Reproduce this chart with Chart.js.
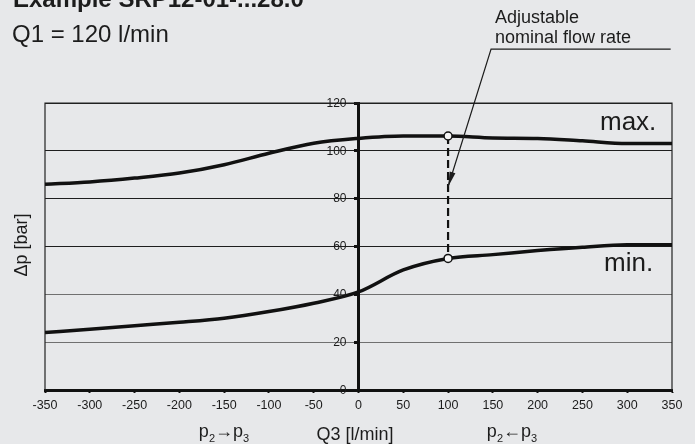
<!DOCTYPE html>
<html>
<head>
<meta charset="utf-8">
<script src="https://cdn.jsdelivr.net/npm/chart.js@4/dist/chart.umd.min.js"></script>
<style>
  html, body { margin: 0; padding: 0; background: #e7e8ea; }
  canvas { display: block; }
</style>
</head>
<body>
<canvas id="c" width="695" height="444"></canvas>
<script>
// ---- data ----
const flowQ3 = [-350, -300, -250, -200, -150, -100, -50, 0, 50, 100, 150, 200, 250, 300, 350];
const maxDp  = [86, 87, 88.6, 90.7, 94.2, 99, 103.2, 105.2, 106.2, 106.2, 105.4, 105.2, 104.2, 103.1, 103.1];
const minDp  = [24, 25.4, 26.9, 28.3, 30, 32.8, 36.3, 41, 50.2, 55, 56.6, 58.3, 59.7, 60.7, 60.7];
const nominalQ = 100;
const xTickStep = 50, yTickStep = 20;

const FONT = '"Liberation Sans", Arial, Helvetica, sans-serif';
const INK = '#1c1c1c';

const toPts = arr => flowQ3.map((q, i) => ({ x: q, y: arr[i] }));
const iNom = flowQ3.indexOf(nominalQ);

const decor = {
  id: 'decor',
  beforeDatasetsDraw(chart) {
    const { ctx, chartArea: a } = chart;
    ctx.save();
    ctx.strokeStyle = '#222';
    ctx.lineWidth = 1.2;
    ctx.beginPath();
    ctx.moveTo(a.left, a.bottom); ctx.lineTo(a.left, a.top);
    ctx.lineTo(a.right, a.top); ctx.lineTo(a.right, a.bottom);
    ctx.stroke();
    ctx.restore();
  },
  afterDraw(chart) {
    const { ctx, scales: { x, y } } = chart;
    ctx.save();
    ctx.fillStyle = INK;
    // y tick labels beside the centred axis
    ctx.font = '12px ' + FONT;
    ctx.textAlign = 'right';
    ctx.textBaseline = 'middle';
    const axisX = x.getPixelForValue(0);
    y.ticks.forEach(t => {
      ctx.fillText(String(t.value), axisX - 12, y.getPixelForValue(t.value) + 0.5);
    });
    ctx.textBaseline = 'alphabetic';
    ctx.textAlign = 'left';
    // titles
    ctx.font = 'bold 24px ' + FONT;
    ctx.fillText('Example SRP12-01-...28.0', 13, 7);
    ctx.font = '24px ' + FONT;
    ctx.fillText('Q1 = 120 l/min', 12, 42);
    // annotation text
    ctx.font = '18px ' + FONT;
    ctx.fillText('Adjustable', 495, 23);
    ctx.fillText('nominal flow rate', 495, 43);
    // leader line + arrow
    const sx = x.getPixelForValue(148), sy = y.getPixelForValue(142.5);
    const ex = x.getPixelForValue(348.5);
    const tx = x.getPixelForValue(nominalQ), ty = y.getPixelForValue(85);
    ctx.strokeStyle = INK;
    ctx.lineWidth = 1.2;
    ctx.beginPath();
    ctx.moveTo(ex, sy); ctx.lineTo(sx, sy); ctx.lineTo(tx, ty);
    ctx.stroke();
    const ang = Math.atan2(ty - sy, tx - sx);
    const L = 15, W = 3;
    const bx = tx - L * Math.cos(ang), by = ty - L * Math.sin(ang);
    ctx.beginPath();
    ctx.moveTo(tx, ty);
    ctx.lineTo(bx + W * Math.sin(ang), by - W * Math.cos(ang));
    ctx.lineTo(bx - W * Math.sin(ang), by + W * Math.cos(ang));
    ctx.closePath();
    ctx.fill();
    // curve labels
    ctx.font = '26px ' + FONT;
    ctx.fillText('max.', 600, 130);
    ctx.fillText('min.', 604, 271);
    // axis titles
    ctx.font = '18px ' + FONT;
    ctx.textAlign = 'center';
    ctx.fillText('Q3 [l/min]', 355, 440);
    const drawP = (cx, arrow) => {
      ctx.textAlign = 'left';
      const big = '18px ' + FONT, small = '11px ' + FONT;
      ctx.font = big; const wp = ctx.measureText('p').width; const wa = ctx.measureText(arrow).width;
      ctx.font = small; const w2 = ctx.measureText('2').width; const w3 = ctx.measureText('3').width;
      let px = cx - (wp * 2 + w2 + w3 + wa) / 2;
      ctx.font = big; ctx.fillText('p', px, 437); px += wp;
      ctx.font = small; ctx.fillText('2', px, 442); px += w2;
      ctx.font = big; ctx.fillText(arrow, px, 437); px += wa;
      ctx.fillText('p', px, 437); px += wp;
      ctx.font = small; ctx.fillText('3', px, 442);
    };
    drawP(224, '\u2192');
    drawP(512, '\u2190');
    // y title
    ctx.save();
    ctx.translate(27, 245);
    ctx.rotate(-Math.PI / 2);
    ctx.font = '18px ' + FONT;
    ctx.textAlign = 'center';
    ctx.fillText('\u0394p [bar]', 0, 0);
    ctx.restore();
    ctx.restore();
  }
};

new Chart(document.getElementById('c'), {
  type: 'line',
  data: {
    datasets: [
      {
        label: 'max.', data: toPts(maxDp),
        borderColor: '#111', borderWidth: 3.5, cubicInterpolationMode: 'monotone',
        pointRadius: c => (c.raw && c.raw.x === nominalQ ? 4 : 0),
        pointBackgroundColor: '#f4f4f4', pointBorderColor: '#111', pointBorderWidth: 1.5
      },
      {
        label: 'min.', data: toPts(minDp),
        borderColor: '#111', borderWidth: 3.5, cubicInterpolationMode: 'monotone',
        pointRadius: c => (c.raw && c.raw.x === nominalQ ? 4 : 0),
        pointBackgroundColor: '#f4f4f4', pointBorderColor: '#111', pointBorderWidth: 1.5
      },
      {
        label: 'nominal', data: [{ x: nominalQ, y: maxDp[iNom] }, { x: nominalQ, y: minDp[iNom] }],
        borderColor: '#111', borderWidth: 2.2, borderDash: [8, 4], pointRadius: 0
      }
    ]
  },
  options: {
    responsive: false,
    animation: false,
    devicePixelRatio: 1,
    layout: { padding: { left: 45, right: 23, top: 103, bottom: 0 } },
    plugins: { legend: { display: false }, tooltip: { enabled: false } },
    scales: {
      x: {
        type: 'linear', min: -350, max: 350, position: 'bottom',
        ticks: { stepSize: xTickStep, color: INK, font: { family: FONT, size: 12.5 }, padding: 5, maxRotation: 0, autoSkip: false },
        grid: { drawOnChartArea: false, tickLength: 3, tickWidth: 2, tickColor: '#111' },
        border: { color: '#111', width: 3 },
        afterFit: s => { s.height = 54; }
      },
      y: {
        type: 'linear', min: 0, max: 120, position: { x: 0 },
        ticks: { stepSize: yTickStep, display: false },
        grid: {
          color: c => (c.tick && c.tick.value >= 60 ? '#1e1e1e' : '#707070'),
          lineWidth: 1, tickLength: 3, tickWidth: 3, tickColor: '#111'
        },
        border: { color: '#111', width: 3 }
      }
    }
  },
  plugins: [decor]
});
</script>
</body>
</html>
